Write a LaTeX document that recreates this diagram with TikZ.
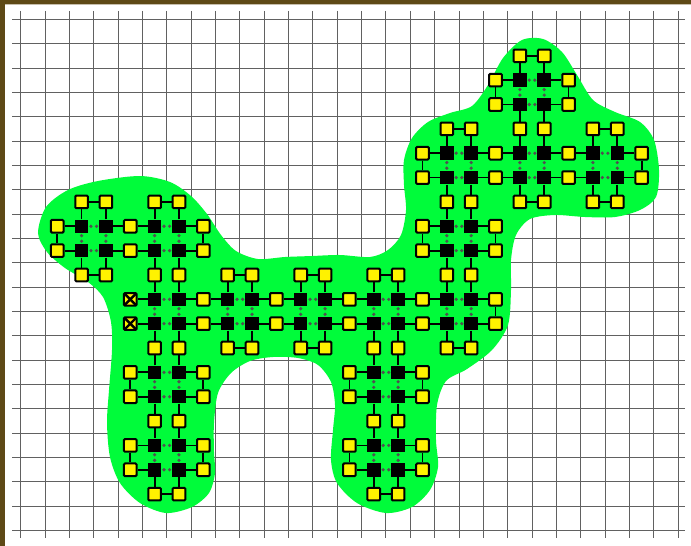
\documentclass[tikz,border=0pt]{standalone}
\usetikzlibrary{calc}
\definecolor{blobgreen}{RGB}{0,252,58}
\definecolor{framebrown}{RGB}{94,73,22}
\definecolor{dotgray}{RGB}{80,80,80}
\tikzset{
  gridline/.style={black!62, line width=1pt},
  qdata/.style={rectangle, fill=black, minimum size=13.5pt, inner sep=0pt},
  qcheck/.style={rectangle, draw=black, fill=yellow, line width=2pt, rounded corners=1pt,
    minimum size=12.6pt, inner sep=0pt},
  qmark/.style={qcheck, path picture={
    \draw[line width=2.4pt] (path picture bounding box.north west) -- (path picture bounding box.south east)
      (path picture bounding box.north east) -- (path picture bounding box.south west);}},
  link/.style={line width=1.8pt},
}

\begin{document}
\begin{tikzpicture}[x=24.35pt, y=-24.35pt]
  % frame, in pixels
  \begin{scope}[shift={(-0.85,-0.793)}, x=1pt, y=-1pt]
    \useasboundingbox (0,0) rectangle (691,546);
    \fill[white] (0,0) rectangle (691,546);
    \fill[framebrown] (0,0) rectangle (691,4.5) (0,0) rectangle (5,546);
  \end{scope}
  % grid
  \foreach \i in {0,...,27} \draw[gridline] (\i,-0.35) -- (\i,21.3);
  \foreach \j in {0,...,21} \draw[gridline] (-0.35,\j) -- (27.3,\j);
  % patch
  \begin{scope}[shift={(-0.85,-0.793)}, x=1pt, y=-1pt]
    \fill[blobgreen] plot[smooth cycle] coordinates {
      (38,233) (46,207) (68,190) (98,181) (140,176) (170,182) (191,196) (207,214)
      (221,235) (236,251) (258,259) (285,257) (312,256) (340,255) (370,257) (388,250)
      (401,235) (406,210) (404,185) (404,160) (412,138) (428,122) (450,113) (472,106)
      (488,85) (503,58) (522,40) (543,39) (562,52) (577,75) (593,100) (615,112)
      (640,122) (654,140) (659,170) (656,197) (640,210) (615,217) (585,217) (555,215)
      (530,219) (516,235) (511,260) (511,290) (508,325) (492,350) (467,369) (446,381)
      (437,405) (436,440) (438,467) (430,490) (412,507) (386,513) (357,503) (337,483)
      (331,460) (333,430) (335,405) (331,382) (318,365) (298,358) (273,357) (250,361)
      (231,373) (218,393) (214,423) (214,452) (215,473) (209,493) (192,507) (166,513)
      (140,503) (120,483) (110,457) (107,423) (109,390) (112,350) (111,322) (103,297)
      (88,282) (65,268) (47,252)};
  \end{scope}
  % blocks: corner / neighbour up, down, left, right (2 = marked)
  \foreach \a/\b/\u/\d/\l/\r in {20/2/0/1/0/0, 17/5/0/1/0/1, 20/5/1/0/1/1, 23/5/0/0/1/0,
      2/8/0/0/0/1, 5/8/0/1/1/0, 17/8/1/1/0/0, 5/11/1/1/2/1, 8/11/0/0/1/1, 11/11/0/0/1/1,
      14/11/0/1/1/1, 17/11/1/0/1/0, 5/14/1/1/0/0, 14/14/1/1/0/0, 5/17/1/0/0/0, 14/17/1/0/0/0}{
    \pgfmathtruncatemacro\aa{\a+1}
    \pgfmathtruncatemacro\bb{\b+1}
    \pgfmathtruncatemacro\al{\a-1}
    \pgfmathtruncatemacro\ar{\a+2}
    \pgfmathtruncatemacro\bt{\b-1}
    \pgfmathtruncatemacro\bd{\b+2}
    \foreach \i in {\a,\aa} \foreach \j in {\b,\bb}
      \node[qdata] (k-\i-\j) at (\i+.5,\j+.5) {};
    \ifnum\u=0
      \foreach \i in {\a,\aa} \node[qcheck] (y-\i-\bt) at (\i+.5,\bt+.5) {};
    \fi
    \foreach \i in {\a,\aa} \node[qcheck] (y-\i-\bd) at (\i+.5,\bd+.5) {};
    \ifnum\l=0
      \foreach \j in {\b,\bb} \node[qcheck] (y-\al-\j) at (\al+.5,\j+.5) {};
    \fi
    \ifnum\l=2
      \foreach \j in {\b,\bb} \node[qmark] (y-\al-\j) at (\al+.5,\j+.5) {};
    \fi
    \foreach \j in {\b,\bb} \node[qcheck] (y-\ar-\j) at (\ar+.5,\j+.5) {};
    \draw[link] (k-\a-\b) -- (y-\a-\bt) (k-\aa-\b) -- (y-\aa-\bt)
      (k-\a-\bb) -- (y-\a-\bd) (k-\aa-\bb) -- (y-\aa-\bd)
      (k-\a-\b) -- (y-\al-\b) (k-\a-\bb) -- (y-\al-\bb)
      (k-\aa-\b) -- (y-\ar-\b) (k-\aa-\bb) -- (y-\ar-\bb);
    \ifnum\u=0 \draw[link] (y-\a-\bt) -- (y-\aa-\bt); \fi
    \ifnum\d=0 \draw[link] (y-\a-\bd) -- (y-\aa-\bd); \fi
    \ifnum\l=0 \draw[link] (y-\al-\b) -- (y-\al-\bb); \fi
    \ifnum\r=0 \draw[link] (y-\ar-\b) -- (y-\ar-\bb); \fi
    \foreach \p/\q in {k-\a-\b/k-\aa-\b, k-\a-\bb/k-\aa-\bb, k-\a-\b/k-\a-\bb, k-\aa-\b/k-\aa-\bb}
      \fill[dotgray] ($(\p)!.385!(\q)$) circle (1.8pt) ($(\p)!.615!(\q)$) circle (1.8pt);
  }
\end{tikzpicture}
\end{document}
